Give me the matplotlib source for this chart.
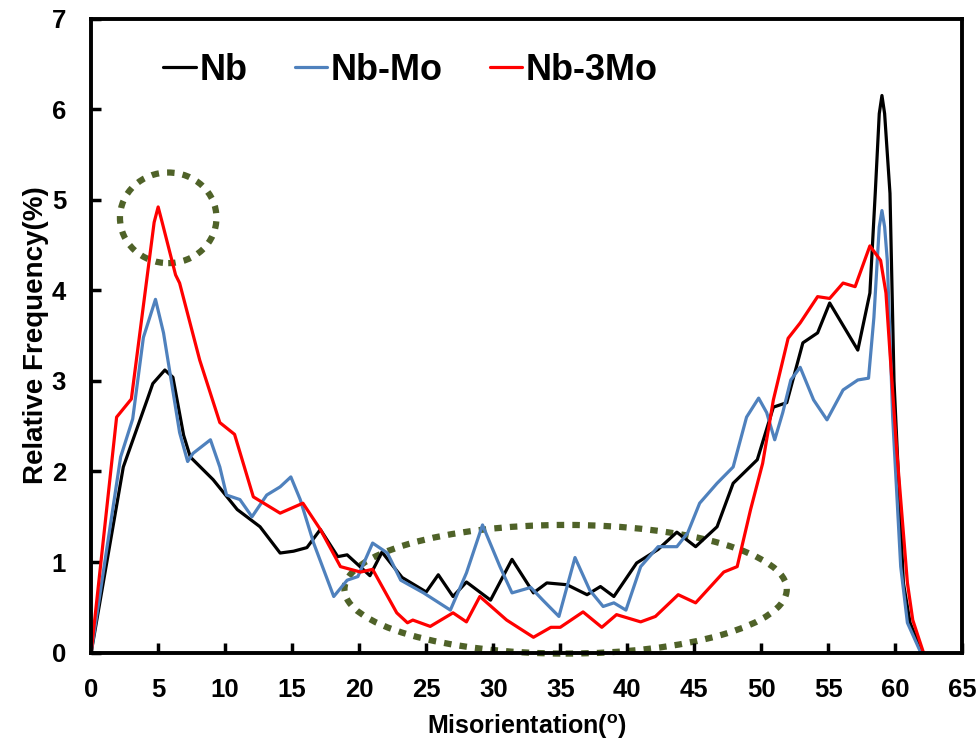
import matplotlib
matplotlib.use("Agg")
import matplotlib.pyplot as plt
from matplotlib.patches import Ellipse

plt.rcParams["font.family"] = ["Liberation Sans", "DejaVu Sans"]
plt.rcParams["font.weight"] = "bold"
plt.rcParams["mathtext.fontset"] = "custom"
plt.rcParams["mathtext.rm"] = "Liberation Sans:bold"
plt.rcParams["mathtext.bf"] = "Liberation Sans:bold"

# Misorientation angle distributions (degrees vs %)
nb_x = [0, 2.4, 4.2, 4.6, 5.5, 6.1, 6.9, 7.4, 9.1, 10.9, 12.6, 14.1, 15.1, 16.1,
        17.1, 18.4, 19.1, 20.8, 21.7, 23.2, 25.0, 25.9, 27.0, 28.0, 29.8, 31.4,
        33.0, 34.0, 35.5, 37.0, 38.0, 39.0, 40.7, 42.3, 43.7, 45.1, 46.7, 47.9,
        49.7, 50.9, 51.9, 53.1, 54.2, 55.1, 57.2, 58.1, 58.5, 58.8, 59.0, 59.2,
        59.6, 59.9, 60.6, 61.1, 62.0]
nb_y = [0, 2.05, 2.80, 2.97, 3.12, 3.04, 2.40, 2.16, 1.91, 1.58, 1.39, 1.10, 1.12,
        1.16, 1.36, 1.06, 1.08, 0.85, 1.11, 0.83, 0.67, 0.86, 0.62, 0.78, 0.58,
        1.03, 0.66, 0.77, 0.75, 0.64, 0.73, 0.62, 0.99, 1.14, 1.33, 1.17, 1.39,
        1.87, 2.13, 2.71, 2.76, 3.42, 3.53, 3.86, 3.34, 3.97, 5.07, 5.95, 6.15,
        5.95, 5.07, 3.00, 0.77, 0.33, 0]

nbmo_x = [0, 2.2, 3.1, 3.9, 4.8, 5.4, 6.6, 7.2, 7.6, 8.9, 9.6, 10.1, 11.1, 12.0,
          13.1, 14.1, 14.9, 15.6, 16.6, 18.1, 19.1, 19.9, 21.0, 22.1, 23.1, 24.8,
          26.8, 28.0, 29.2, 30.5, 31.4, 32.8, 33.7, 34.9, 36.1, 37.2, 38.2, 39.0,
          39.9, 41.0, 42.3, 43.7, 44.5, 45.4, 46.7, 47.9, 48.9, 49.8, 50.4, 51.0,
          51.6, 52.2, 52.9, 53.9, 54.9, 56.1, 57.2, 58.0, 58.4, 58.8, 59.0, 59.2,
          59.4, 59.8, 60.4, 60.9, 61.9]
nbmo_y = [0, 2.16, 2.58, 3.48, 3.90, 3.53, 2.43, 2.11, 2.20, 2.35, 2.05, 1.74, 1.69,
          1.50, 1.74, 1.83, 1.94, 1.69, 1.21, 0.62, 0.80, 0.84, 1.21, 1.10, 0.80,
          0.66, 0.47, 0.88, 1.41, 0.95, 0.66, 0.72, 0.58, 0.40, 1.05, 0.69, 0.51,
          0.55, 0.47, 0.95, 1.17, 1.17, 1.32, 1.65, 1.87, 2.05, 2.60, 2.81, 2.65,
          2.35, 2.65, 3.01, 3.15, 2.79, 2.57, 2.90, 3.01, 3.03, 3.70, 4.70, 4.88,
          4.70, 4.33, 2.60, 0.95, 0.33, 0]

nb3mo_x = [0, 1.9, 3.0, 4.7, 5.0, 5.3, 6.3, 6.6, 8.1, 9.6, 10.7, 12.1, 14.1, 15.8,
           17.1, 18.6, 20.1, 21.0, 22.8, 23.6, 24.0, 25.3, 27.0, 28.0, 29.0, 31.0,
           33.0, 34.3, 35.0, 36.7, 38.1, 39.2, 41.0, 42.1, 43.8, 45.1, 47.2, 48.2,
           49.2, 50.1, 50.9, 52.0, 52.9, 54.2, 55.1, 56.1, 57.0, 58.1, 58.9, 59.3,
           59.6, 60.1, 60.9, 61.3, 62.1]
nb3mo_y = [0, 2.60, 2.80, 4.75, 4.92, 4.75, 4.17, 4.08, 3.23, 2.54, 2.41, 1.72,
           1.54, 1.65, 1.36, 0.95, 0.89, 0.92, 0.44, 0.33, 0.36, 0.29, 0.44, 0.34,
           0.62, 0.36, 0.17, 0.28, 0.28, 0.45, 0.28, 0.42, 0.34, 0.40, 0.64, 0.55,
           0.89, 0.95, 1.58, 2.09, 2.79, 3.47, 3.64, 3.93, 3.91, 4.08, 4.04, 4.49,
           4.33, 3.97, 3.31, 2.24, 0.77, 0.36, 0]

x_ticks = list(range(0, 70, 5))
y_ticks = list(range(0, 8))

fig = plt.figure(figsize=(9.8, 7.4), dpi=100)
ax = fig.add_axes([0.093, 0.118, 0.889, 0.857])

line_kw = dict(lw=2.3, solid_joinstyle="round", solid_capstyle="round")
ax.plot(nb_x, nb_y, color="black", label="Nb", **line_kw)
ax.plot(nbmo_x, nbmo_y, color="#4F81BD", label="Nb-Mo", **line_kw)
ax.plot(nb3mo_x, nb3mo_y, color="red", label="Nb-3Mo", **line_kw)

# dotted highlight rings
ring_kw = dict(fill=False, edgecolor="#4F6228", lw=4.5, linestyle=(0, (1.2, 1.3)),
               clip_on=False)
ax.add_patch(Ellipse((5.75, 4.8), 7.2, 1.0, **ring_kw))
ax.add_patch(Ellipse((35.4, 0.70), 33.0, 1.42, **ring_kw))

ax.set_xlim(0, 65)
ax.set_ylim(0, 7)
ax.set_xticks(x_ticks)
ax.set_yticks(y_ticks)
ax.tick_params(direction="in", length=7, width=2.5, labelsize=18.5)
ax.tick_params(axis="x", pad=18)
ax.tick_params(axis="y", pad=18)
for lab in ax.get_xticklabels() + ax.get_yticklabels():
    lab.set_fontweight("bold")
for sp in ax.spines.values():
    sp.set_linewidth(2.8)

ax.set_xlabel(r"Misorientation($^{\mathrm{o}}$)", fontsize=18, fontweight="bold",
              labelpad=8)
ax.set_ylabel("Relative Frequency(%)", fontsize=20, fontweight="bold", labelpad=2)

leg = ax.legend(loc="center left", ncol=3, frameon=False, fontsize=26,
                handlelength=0.9, handletextpad=0.1, columnspacing=1.3,
                bbox_to_anchor=(0.083, 0.918), borderaxespad=0, borderpad=0)
for t in leg.get_texts():
    t.set_fontweight("bold")

fig.savefig("out.png", dpi=100)
